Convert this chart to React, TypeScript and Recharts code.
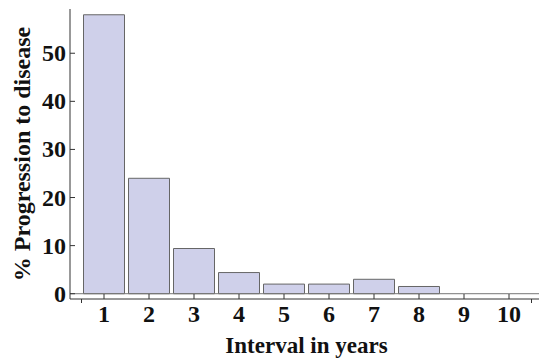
import { Bar, BarChart, ReferenceLine, XAxis, YAxis } from "recharts";

const intervals = ["1", "2", "3", "4", "5", "6", "7", "8", "9", "10"];
const progression = [58, 24, 9.4, 4.4, 2, 2, 3, 1.5, 0, 0];
const yTicks = [0, 10, 20, 30, 40, 50];

const data = intervals.map((year, i) => ({ year, pct: progression[i] }));

const FONT = "'Liberation Serif', 'DejaVu Serif', serif";
const AXIS = "#333";

function YTick({ x, y, payload }: any) {
  return (
    <g>
      <line x1={x} x2={x + 5} y1={y} y2={y} stroke={AXIS} />
      <text
        x={x - 4}
        y={y}
        dy={8}
        textAnchor="end"
        fontFamily={FONT}
        fontWeight="bold"
        fontSize={24}
        fill="#111"
      >
        {payload.value}
      </text>
    </g>
  );
}

function XTick({ x, y, payload, index, visibleTicksCount }: any) {
  const half = payload.offset || 22.5;
  const last = index === (visibleTicksCount ?? intervals.length) - 1;
  return (
    <g>
      <line x1={x} x2={x} y1={y} y2={y - 5} stroke={AXIS} />
      {index === 0 && (
        <line x1={x - half} x2={x - half} y1={y} y2={y + 4} stroke={AXIS} />
      )}
      {last && (
        <line x1={x + half} x2={x + half} y1={y} y2={y + 4} stroke={AXIS} />
      )}
      <text
        x={x}
        y={y + 23}
        textAnchor="middle"
        fontFamily={FONT}
        fontWeight="bold"
        fontSize={24}
        fill="#111"
      >
        {payload.value}
      </text>
    </g>
  );
}

function YLabel({ viewBox }: any) {
  const cx = viewBox.x + 22;
  const cy = viewBox.y + viewBox.height / 2;
  return (
    <text
      x={cx}
      y={cy}
      transform={`rotate(-90 ${cx} ${cy})`}
      textAnchor="middle"
      dominantBaseline="central"
      fontFamily={FONT}
      fontWeight="bold"
      fontSize={24}
      fill="#111"
    >
      % Progression to disease
    </text>
  );
}

function XLabel({ viewBox }: any) {
  return (
    <text
      x={viewBox.x + viewBox.width / 2 + 2}
      y={viewBox.y + 54}
      textAnchor="middle"
      fontFamily={FONT}
      fontWeight="bold"
      fontSize={23}
      fill="#111"
    >
      Interval in years
    </text>
  );
}

export default function App() {
  return (
    <div style={{ position: "absolute", left: 0, top: 0 }}>
      <BarChart
        width={539}
        height={359}
        data={data}
        margin={{ top: 9, right: 0, left: 0, bottom: 0 }}
        barCategoryGap={2}
      >
        <XAxis
          dataKey="year"
          height={60}
          padding={{ left: 11.5, right: 7.5 }}
          axisLine={{ stroke: AXIS }}
          tickLine={false}
          tickSize={0}
          tickMargin={0}
          interval={0}
          tick={<XTick />}
          label={<XLabel />}
        />
        <YAxis
          width={70}
          type="number"
          domain={[-1.1, 59.2]}
          ticks={yTicks}
          axisLine={{ stroke: AXIS }}
          tickLine={false}
          tickSize={0}
          tickMargin={0}
          tick={<YTick />}
          label={<YLabel />}
        />
        <ReferenceLine y={0} stroke="#777" />
        <Bar
          dataKey="pct"
          fill="#cfd0ea"
          stroke="#666"
          strokeWidth={1}
          isAnimationActive={false}
        />
      </BarChart>
    </div>
  );
}
